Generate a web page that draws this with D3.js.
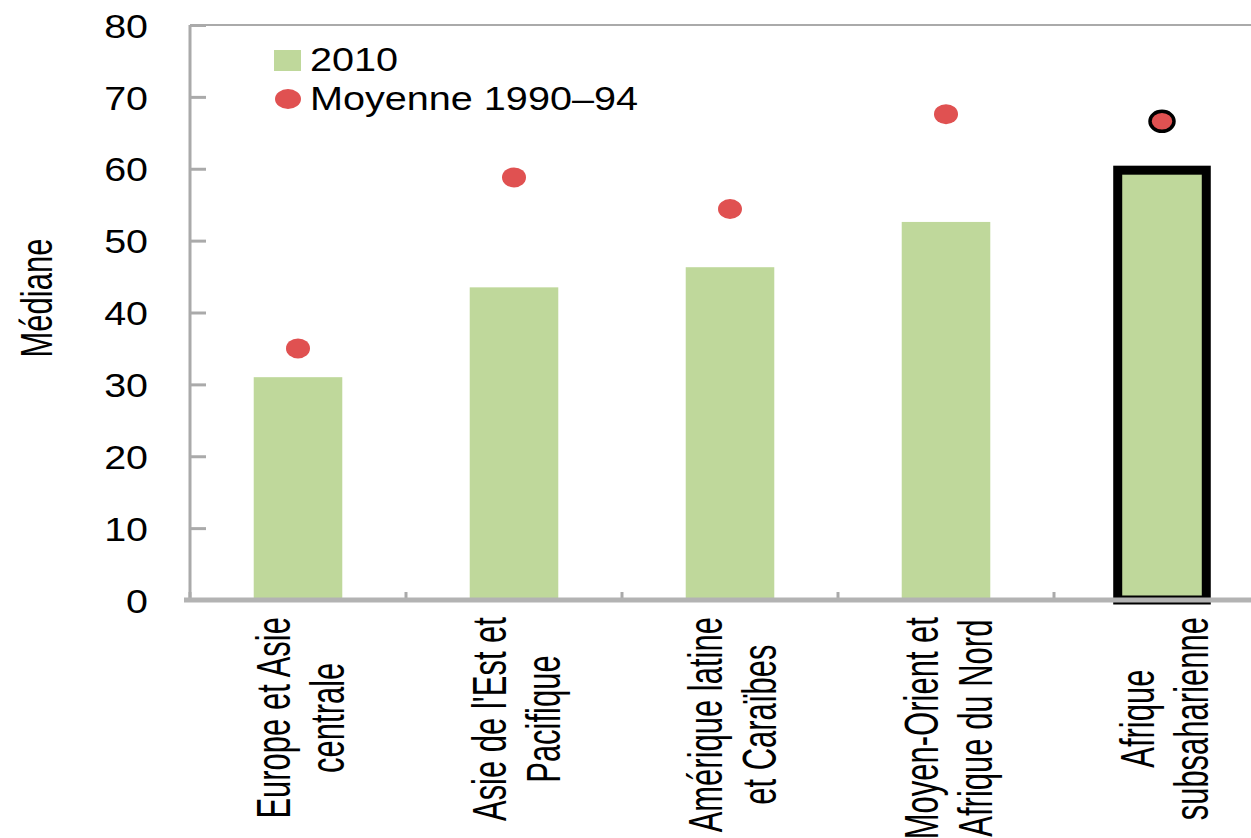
<!DOCTYPE html>
<html>
<head>
<meta charset="utf-8">
<script src="https://cdn.jsdelivr.net/npm/d3@7"></script>
<style>
  body { margin: 0; background: #fff; }
  svg text { font-family: "Liberation Sans", Arial, sans-serif; fill: #000; }
</style>
</head>
<body>
<div id="chart"></div>
<script>
// regions, each label split in two lines like the original
var categories = ["europe", "asie", "amerique", "moyen", "afrique"];
var categoryLines = [
  ["Europe et Asie", "centrale"],
  ["Asie de l'Est et", "Pacifique"],
  ["Amérique latine", "et Caraïbes"],
  ["Moyen-Orient et", "Afrique du Nord"],
  ["Afrique", "subsaharienne"]
];
var values2010 = [31.0, 43.5, 46.3, 52.6, 59.8];
var avg1990_94 = [35.0, 58.8, 54.4, 67.6, 66.6];
var yTicks = [0, 10, 20, 30, 40, 50, 60, 70, 80];
var highlight = "afrique";

var W = 1251, H = 838;
var sx = 1.16;       // horizontal stretch of the original picture

var svg = d3.select("#chart").append("svg")
    .attr("width", W)
    .attr("height", H);

var x = d3.scaleBand()
    .domain(categories)
    .range([190, 1270])
    .paddingInner(0.59)
    .paddingOuter(0.295);

var y = d3.scaleLinear()
    .domain([0, 80])
    .range([600, 25]);

//////////////// bars ////////////////
svg.selectAll(".bar")
    .data(values2010)
    .enter().append("rect")
    .attr("class", "bar")
    .attr("x", function(d, i){ return x(categories[i]); })
    .attr("width", x.bandwidth())
    .attr("y", function(d){ return y(d); })
    .attr("height", function(d){ return y(0) - y(d); })
    .style("fill", "#bfd89b")
    .style("stroke", function(d, i){ return categories[i] == highlight ? "#000" : "none"; })
    .style("stroke-width", 9);

//////////////// dots ////////////////
svg.selectAll(".dot")
    .data(avg1990_94)
    .enter().append("ellipse")
    .attr("class", "dot")
    .attr("cx", function(d, i){ return x(categories[i]) + x.bandwidth() / 2; })
    .attr("cy", function(d){ return y(d); })
    .attr("rx", 12)
    .attr("ry", 10)
    .style("fill", "#e05151")
    .style("stroke", function(d, i){ return categories[i] == highlight ? "#000" : "none"; })
    .style("stroke-width", 3.5);

//////////////// axes ////////////////
var axisColor = "#aaaaaa";

// top frame line
svg.append("line")
    .attr("x1", 190).attr("x2", W)
    .attr("y1", y(80)).attr("y2", y(80))
    .style("stroke", axisColor).style("stroke-width", 2);

var yAxis = d3.axisLeft(y)
    .tickValues(yTicks)
    .tickSize(-16)
    .tickPadding(0);

var gy = svg.append("g")
    .attr("transform", "translate(190,0)")
    .call(yAxis);
gy.select(".domain").remove();
gy.selectAll("line").style("stroke", axisColor).style("stroke-width", 3);
gy.selectAll("text")
    .attr("x", 0)
    .attr("dy", "0.36em")
    .attr("transform", "translate(-42,0) scale(" + sx + ",1)")
    .style("text-anchor", "end")
    .style("font-size", "34px");

svg.append("line")
    .attr("x1", 190).attr("x2", 190)
    .attr("y1", y(80)).attr("y2", y(0) + 2)
    .style("stroke", axisColor).style("stroke-width", 3);

// x axis: ticks between the bands
var gap = (x.step() - x.bandwidth()) / 2;
var xBounds = categories.map(function(c){ return x(c) - gap; });
xBounds.push(x.range()[1]);

svg.selectAll(".xtick")
    .data(xBounds)
    .enter().append("line")
    .attr("class", "xtick")
    .attr("x1", function(d){ return d; })
    .attr("x2", function(d){ return d; })
    .attr("y1", y(0) - 8)
    .attr("y2", y(0))
    .style("stroke", axisColor).style("stroke-width", 3);

svg.append("line")
    .attr("x1", 184).attr("x2", W)
    .attr("y1", y(0)).attr("y2", y(0))
    .style("stroke", "#b3b3b3").style("stroke-width", 5);

//////////////// category labels (rotated) ////////////////
var labelTop = 617;
var lineOffsets = [-8, 46];

categoryLines.forEach(function(lines, i){
    var cx = x(categories[i]) + x.bandwidth() / 2;
    var g = svg.append("g");
    var texts = lines.map(function(t, j){
        return g.append("text")
            .style("font-size", "31px")
            .style("text-anchor", "middle")
            .text(t);
    });
    var maxLen = d3.max(texts, function(t){ return t.node().getComputedTextLength(); });
    var cy = labelTop + maxLen / 2;
    texts.forEach(function(t, j){
        t.attr("transform", "translate(" + (cx + lineOffsets[j]) + "," + cy + ") rotate(-90) scale(1,1.55)");
    });
});

// y title
svg.append("text")
    .attr("transform", "translate(52,298) rotate(-90) scale(1,1.45)")
    .style("text-anchor", "middle")
    .style("font-size", "31px")
    .text("Médiane");

//////////////// legend ////////////////
var legend = svg.append("g");
legend.append("rect")
    .attr("x", 274).attr("y", 50)
    .attr("width", 27).attr("height", 21)
    .style("fill", "#bfd89b");
legend.append("text")
    .attr("transform", "translate(310,71) scale(1.2,1)")
    .style("font-size", "33px")
    .text("2010");
legend.append("ellipse")
    .attr("cx", 288).attr("cy", 99)
    .attr("rx", 13).attr("ry", 10)
    .style("fill", "#e05151");
legend.append("text")
    .attr("transform", "translate(310,110) scale(1.2,1)")
    .style("font-size", "33px")
    .text("Moyenne 1990–94");
</script>
</body>
</html>
